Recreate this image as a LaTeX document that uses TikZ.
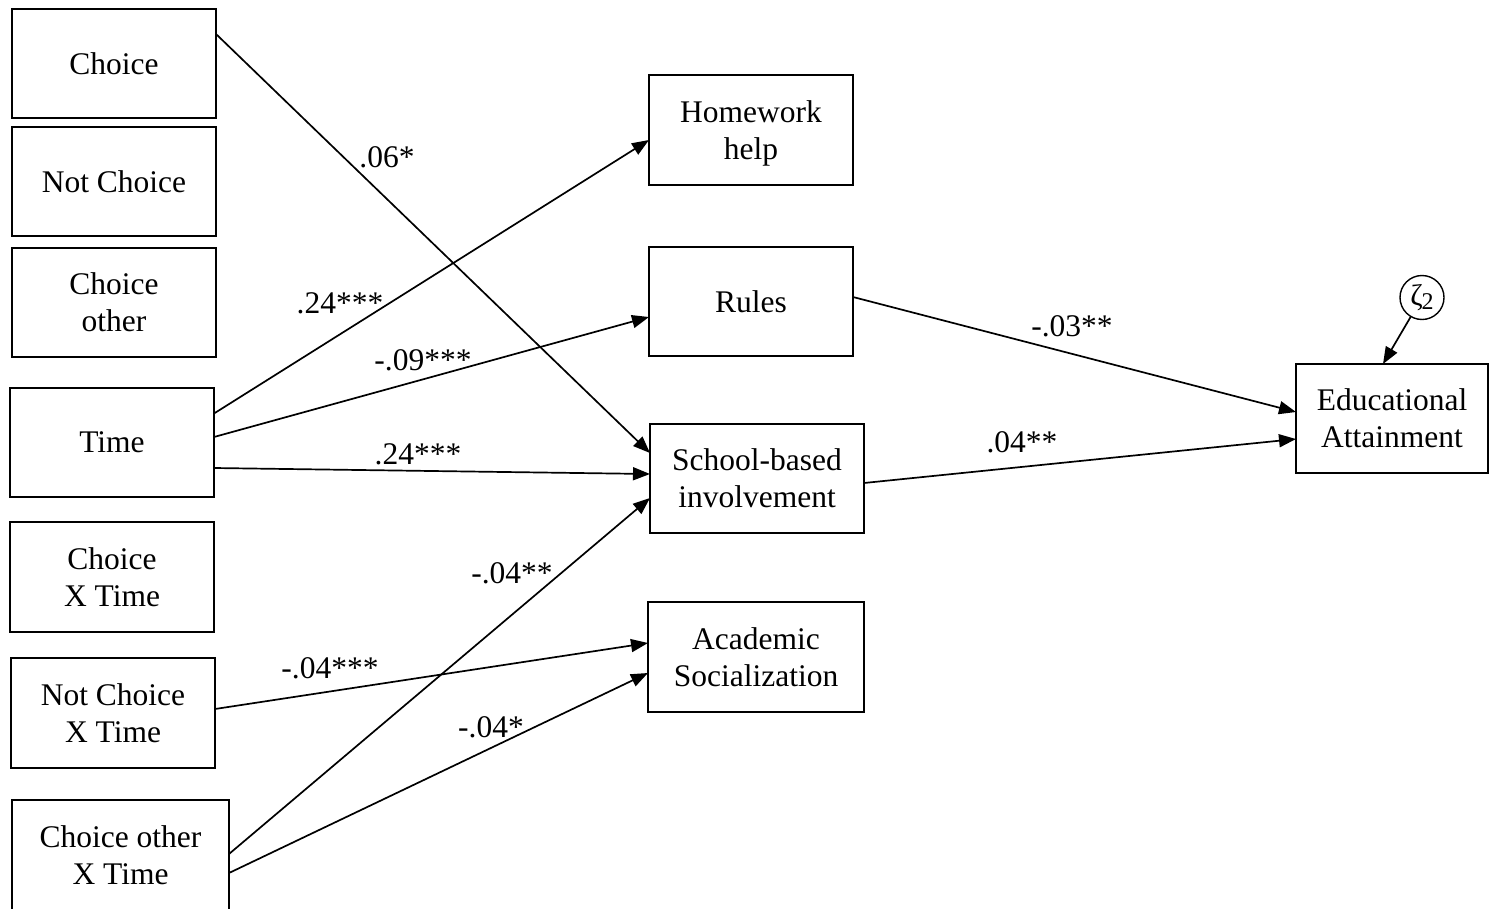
\documentclass[tikz,border=0pt]{standalone}
\usepackage{fontspec}
\setmainfont{Liberation Serif}
\usetikzlibrary{arrows.meta}
\begin{document}
\begin{tikzpicture}[x=1pt,y=-1pt,
  boxnode/.style={draw,line width=1.8pt,rectangle,inner sep=0pt,outer sep=0pt,
    align=center,text depth=0pt,font=\fontsize{31.5}{37}\selectfont},
  lbl/.style={inner sep=0pt,font=\fontsize{31.5}{37}\selectfont},
  path/.style={line width=1.7pt,-{Triangle[length=17pt,width=13pt]}}]
\useasboundingbox (0,0) rectangle (1489,908);
\fill[white] (0,0) rectangle (1489,908);
% left column
\node[boxnode,minimum width=204pt,minimum height=109pt] (choice) at (114,63.5) {Choice};
\node[boxnode,minimum width=204pt,minimum height=109pt] (notchoice) at (114,181.5) {Not Choice};
\node[boxnode,minimum width=204pt,minimum height=109pt] (choiceother) at (114,302.5) {Choice\\other};
\node[boxnode,minimum width=204pt,minimum height=109pt] (time) at (112,442.5) {Time};
\node[boxnode,minimum width=204pt,minimum height=110pt] (choicextime) at (112,577) {Choice\\X Time};
\node[boxnode,minimum width=204pt,minimum height=110pt] (notchoicextime) at (113,713) {Not Choice\\X Time};
\node[boxnode,minimum width=217pt,minimum height=110pt] (choiceotherxtime) at (120.5,855) {Choice other\\X Time};
% middle column
\node[boxnode,minimum width=204pt,minimum height=110pt] (homework) at (751,130) {Homework\\help};
\node[boxnode,minimum width=204pt,minimum height=109pt] (rules) at (751,301.5) {Rules};
\node[boxnode,minimum width=214pt,minimum height=109pt] (school) at (757,478.5) {School-based\\involvement};
\node[boxnode,minimum width=216pt,minimum height=110pt] (academic) at (756,657) {Academic\\Socialization};
% outcome
\node[boxnode,minimum width=192pt,minimum height=109pt] (ea) at (1392,418.5) {Educational\\Attainment};
\node[draw,circle,line width=1.4pt,minimum size=44pt,inner sep=0pt] (zeta) at (1422,297.5)
  {\fontsize{30}{30}\selectfont ζ\kern-1pt\raisebox{-4pt}{\fontsize{24}{24}\selectfont 2}};
% paths
\draw[path] ([yshift=29.5pt]choice.east) -- ([yshift=25.5pt]school.west);
\draw[path] ([yshift=29pt]time.east) -- ([yshift=-10pt]homework.west);
\draw[path] ([yshift=5.5pt]time.east) -- ([yshift=-15.5pt]rules.west);
\draw[path] ([yshift=-25.5pt]time.east) -- ([yshift=4.5pt]school.west);
\draw[path] ([yshift=1pt]choiceotherxtime.east) -- ([yshift=-19.5pt]school.west);
\draw[path] ([yshift=4pt]notchoicextime.east) -- ([yshift=14pt]academic.west);
\draw[path] ([yshift=-18pt]choiceotherxtime.east) -- ([yshift=-16pt]academic.west);
\draw[path] ([yshift=4.5pt]rules.east) -- ([yshift=6.5pt]ea.west);
\draw[path] ([yshift=-4.5pt]school.east) -- ([yshift=-20.5pt]ea.west);
\draw[path] (zeta) -- ([xshift=-9pt]ea.north);
% labels
\node[lbl] (l1) at (387,157) {.06*};
\node[lbl] (l2) at (340,303) {.24***};
\node[lbl] (l3) at (423,360) {-.09***};
\node[lbl] (l4) at (418,454) {.24***};
\node[lbl] (l5) at (512,573) {-.04**};
\node[lbl] (l6) at (330,668) {-.04***};
\node[lbl] (l7) at (491,727) {-.04*};
\node[lbl] (l8) at (1072,326) {-.03**};
\node[lbl] (l9) at (1022,442) {.04**};
\end{tikzpicture}
\end{document}
